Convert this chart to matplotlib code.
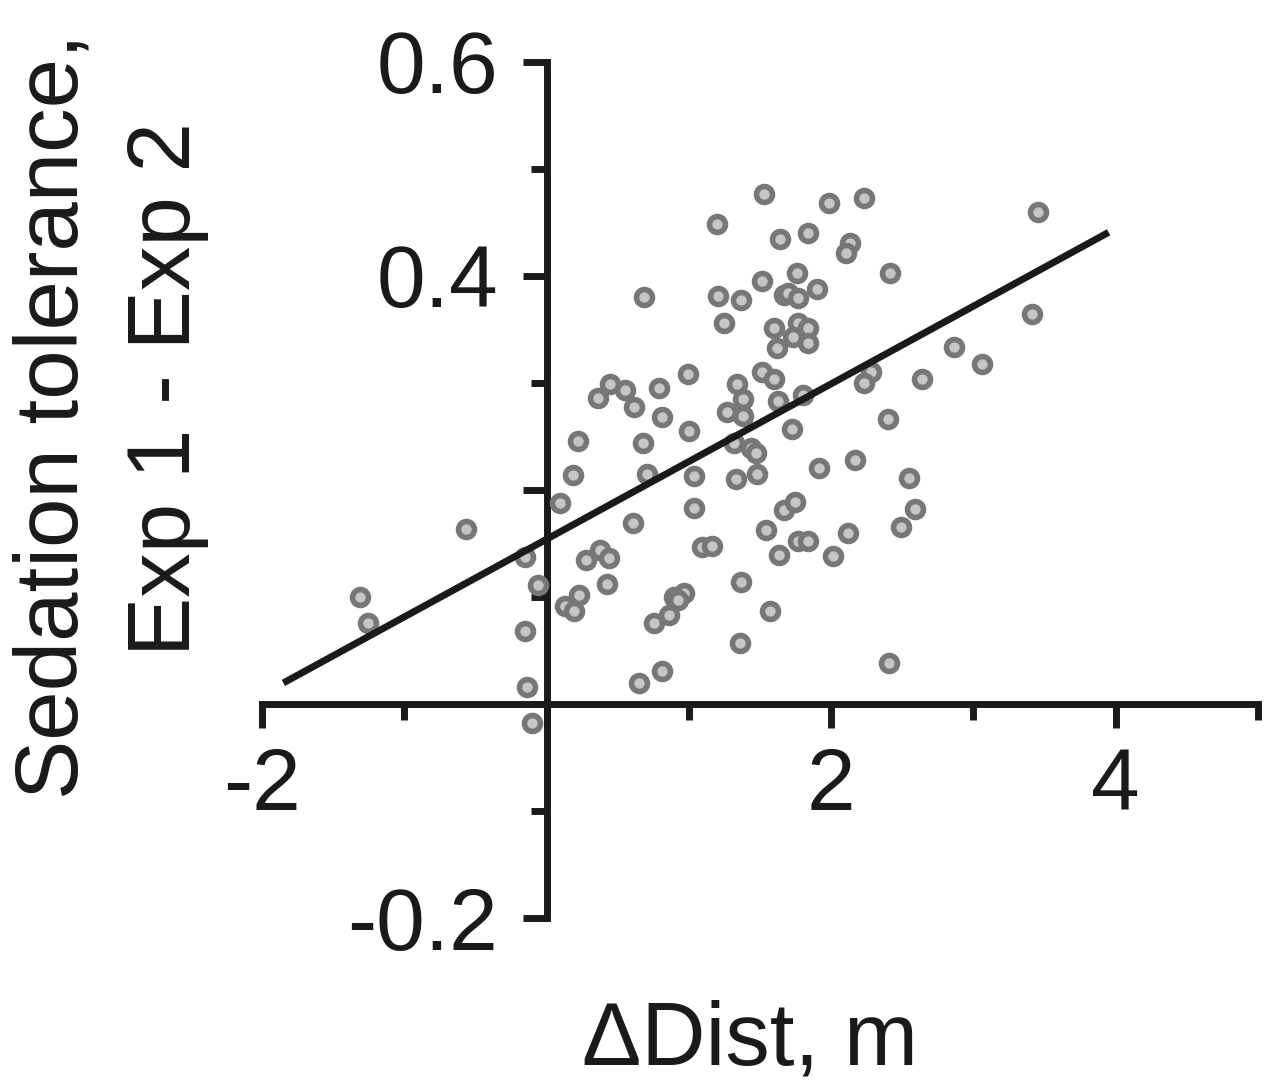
import matplotlib
matplotlib.use('Agg')
from matplotlib import pyplot as plt
from matplotlib.ticker import FixedLocator, FixedFormatter
import numpy as np

plt.rcParams['font.family'] = ['Liberation Sans', 'DejaVu Sans']

# change in distance (m)
dist = [-1.308, -1.252, -0.563, -0.155, -0.063, -0.155, -0.141, -0.105,
        0.091, 0.183, 0.218, 0.274, 0.373, 0.436, 0.422, 0.225, 0.127, 0.190,
        0.359, 0.443, 0.549, 0.612, 0.682, 0.788, 0.809, 0.675, 0.703, 0.605,
        0.752, 0.809, 0.647, 0.992, 0.999, 1.034, 1.034, 1.090, 1.160, 0.963,
        0.893, 0.921, 0.858, 1.196, 1.203, 1.364, 1.245, 1.336, 1.378, 1.266,
        1.378, 1.315, 1.435, 1.470, 1.329, 1.477, 1.364, 1.357, 1.526, 1.639,
        1.835, 1.512, 1.758, 1.899, 1.667, 1.695, 1.765, 1.596, 1.765, 1.835,
        1.730, 1.835, 1.617, 1.512, 1.596, 1.624, 1.800, 1.723, 1.913, 1.667,
        1.744, 1.540, 1.765, 1.835, 1.632, 1.568, 1.983, 2.229, 2.131, 2.103,
        2.412, 2.278, 2.229, 2.637, 2.398, 2.166, 2.546, 2.588, 2.489, 2.117,
        2.011, 2.405, 2.862, 3.059, 3.411, 3.453]
# sedation tolerance difference, exp 1 - exp 2
tol = [0.100, 0.076, 0.164, 0.137, 0.111, 0.068, 0.016, -0.018,
       0.188, 0.214, 0.246, 0.135, 0.144, 0.136, 0.112, 0.102, 0.092, 0.087,
       0.286, 0.299, 0.293, 0.278, 0.380, 0.295, 0.268, 0.244, 0.215, 0.169,
       0.076, 0.031, 0.020, 0.308, 0.255, 0.213, 0.183, 0.147, 0.148, 0.104,
       0.100, 0.097, 0.083, 0.449, 0.381, 0.378, 0.356, 0.299, 0.285, 0.273,
       0.269, 0.244, 0.239, 0.235, 0.210, 0.215, 0.114, 0.057, 0.477, 0.435,
       0.440, 0.395, 0.403, 0.388, 0.382, 0.384, 0.379, 0.351, 0.356, 0.351,
       0.343, 0.337, 0.333, 0.310, 0.304, 0.283, 0.289, 0.257, 0.221, 0.181,
       0.189, 0.163, 0.152, 0.152, 0.139, 0.087, 0.468, 0.473, 0.431, 0.421,
       0.403, 0.310, 0.300, 0.304, 0.266, 0.228, 0.211, 0.182, 0.165, 0.160,
       0.138, 0.038, 0.334, 0.318, 0.364, 0.460]

# regression line
fit_x = [-1.85, 3.95]
slope = 0.0726
intercept = 0.154

fig = plt.figure(figsize=(12.72, 10.85), dpi=100)
ax = fig.add_axes([0.206, 0.1539, 0.783, 0.789])

ax.plot(dist, tol, 'o', ms=11.5, mfc='#c6c6c6', mec='#777777', mew=4.0,
        zorder=3, clip_on=False)
fx = np.array(fit_x)
ax.plot(fx, intercept + slope * fx, color='#1a1a1a', lw=5, zorder=4,
        solid_capstyle='butt')

ax.set_xlim(-2, 5)
ax.set_ylim(-0.2, 0.6)

for s in ['top', 'right']:
    ax.spines[s].set_visible(False)
ax.spines['left'].set_position(('data', 0))
ax.spines['bottom'].set_position(('data', 0))
for s in ['left', 'bottom']:
    ax.spines[s].set_linewidth(5)
    ax.spines[s].set_color('#1a1a1a')
    ax.spines[s].set_capstyle('projecting')

ax.xaxis.set_major_locator(FixedLocator([-2, 0, 2, 4]))
ax.xaxis.set_major_formatter(FixedFormatter(['-2', '', '2', '4']))
ax.xaxis.set_minor_locator(FixedLocator([-1, 1, 3, 5]))
ax.yaxis.set_major_locator(FixedLocator([-0.2, 0, 0.2, 0.4, 0.6]))
ax.yaxis.set_major_formatter(FixedFormatter(['-0.2', '', '', '0.4', '0.6']))
ax.yaxis.set_minor_locator(FixedLocator([-0.1, 0.1, 0.3, 0.5]))

ax.tick_params(which='major', direction='out', length=17, width=5,
               color='#1a1a1a', labelsize=63, labelcolor='#1a1a1a')
ax.tick_params(which='minor', direction='out', length=11.5, width=5,
               color='#1a1a1a')
ax.tick_params(axis='x', which='major', pad=14)
ax.tick_params(axis='y', which='major', pad=18)

fig.text(750 / 1272, 1 - 1064 / 1085, '\u0394Dist, m', fontsize=64,
         ha='center', va='baseline', color='#1a1a1a')
fig.text(78 / 1272, 1 - 416 / 1085, 'Sedation tolerance,', fontsize=64,
         rotation=90, rotation_mode='anchor', ha='center', va='baseline',
         color='#1a1a1a')
fig.text(190 / 1272, 1 - 389 / 1085, 'Exp 1 - Exp 2', fontsize=64,
         rotation=90, rotation_mode='anchor', ha='center', va='baseline',
         color='#1a1a1a')

fig.savefig('out.png', dpi=100)
